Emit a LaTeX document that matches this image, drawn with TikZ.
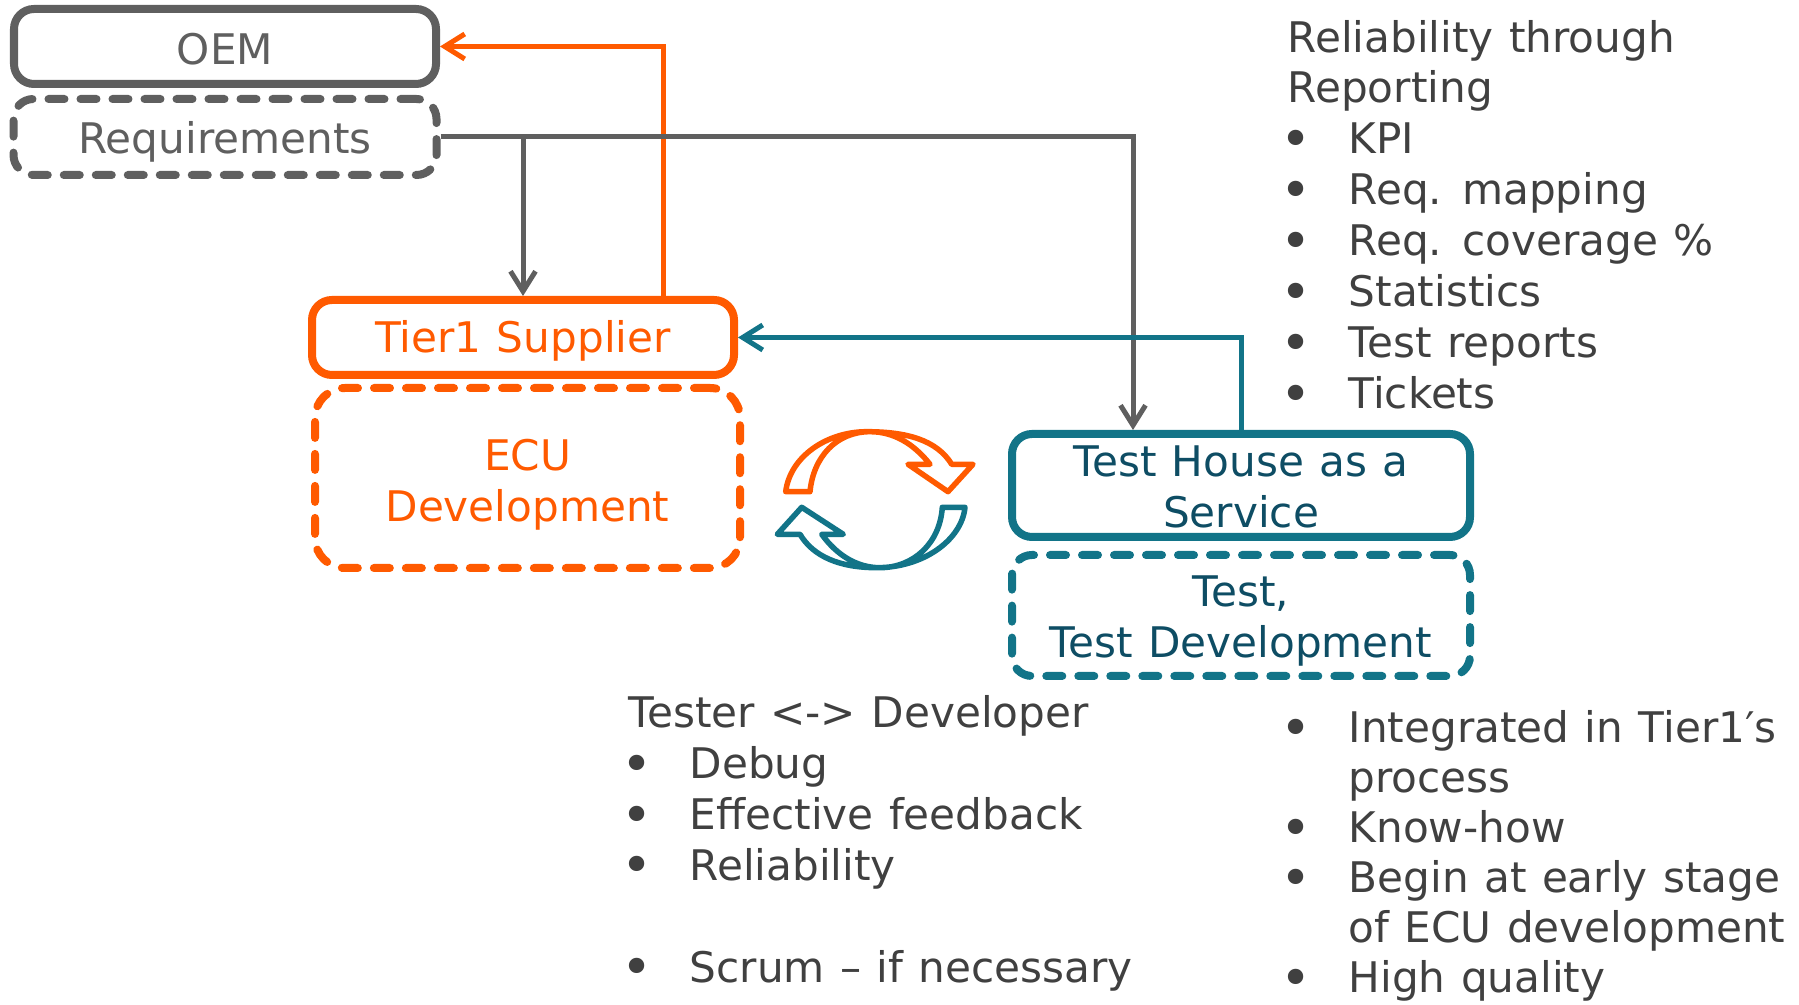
\documentclass[tikz,border=0pt]{standalone}
\usepackage{fontspec}
\setmainfont{DejaVu Sans}[WordSpace=1.15]
\usetikzlibrary{arrows.meta}
\definecolor{mygray}{RGB}{95, 95, 95}
\definecolor{myorange}{RGB}{255, 90, 0}
\definecolor{myteal}{RGB}{18, 116, 136}
\definecolor{mydarkteal}{RGB}{14, 77, 100}
\definecolor{mytext}{RGB}{64, 64, 64}
\tikzstyle{boxnode} = [rounded corners=0.2cm, line width=0.08cm, align=center, inner sep=0pt, font=\fontsize{12}{14.5}\selectfont]
\tikzstyle{dashbox} = [boxnode, line cap=round, dash pattern=on 0.16cm off 0.16cm]
\tikzstyle{arrow} = [line width=0.05cm, ->, >={Straight Barb[length=0.2cm, width=0.25cm]}]
\tikzstyle{cycle} = [line width=0.055cm, line join=round]
\tikzstyle{listnode} = [anchor=north west, align=left, inner sep=0pt, text=mytext, font=\fontsize{12}{14.5}\selectfont]
\newcommand{\blt}{\makebox[0.61cm][l]{\hspace{-0.07cm}\raisebox{-1.1pt}{\scalebox{1.25}{\textbullet}}}}
\newcommand{\cnt}{\makebox[0.61cm][l]{}}
\newcommand{\low}[2]{\raisebox{-#1cm}[\height][\depth]{#2}}

\begin{document}
\begin{tikzpicture}
        \useasboundingbox (0,0) rectangle (17.99,10.05);

        % OEM blocks
        \node (oem) at (2.25,9.585) [boxnode, minimum width=4.22cm, minimum height=0.75cm, draw=mygray, text=mygray] {\low{0.023}{OEM}};
        \node (req) at (2.25,8.68) [dashbox, minimum width=4.23cm, minimum height=0.76cm, draw=mygray, text=mygray] {\low{0.046}{Requirements}};

        % Tier1 blocks
        \node (tier) at (5.23,6.675) [boxnode, minimum width=4.22cm, minimum height=0.75cm, draw=myorange, text=myorange] {\low{0.034}{Tier1 Supplier}};
        \node (ecu) at (5.275,5.27) [dashbox, rounded corners=0.3cm, minimum width=4.25cm, minimum height=1.8cm, draw=myorange, text=myorange] {\low{0.069}{ECU}\\\low{0.069}{Development}};

        % Test house blocks
        \node (test) at (12.41,5.195) [boxnode, minimum width=4.58cm, minimum height=1.03cm, draw=myteal, text=mydarkteal] {\low{0.011}{Test House as a}\\\low{0.011}{Service}};
        \node (testdev) at (12.41,3.895) [dashbox, minimum width=4.58cm, minimum height=1.21cm, draw=myteal, text=mydarkteal] {\low{0.06}{Test,}\\\low{0.06}{Test Development}};

        % Turning points
        \coordinate (oemturn) at (6.63,9.585);
        \coordinate (testturn) at (11.33,8.68);

        % Connections
        \draw [arrow, myorange] (tier.north -| oemturn) |- (oem.east);
        \draw [arrow, mygray] (req.east) -| (testturn |- test.north);
        \draw [arrow, mygray] (req.east -| tier.north) -- (tier.north);
        \draw [arrow, myteal] (test.north) |- (tier.east);

        % Cycle arrows
        \draw [cycle, myorange] (7.857,5.133) .. controls (7.90,5.483) and (8.267,5.733) .. (8.667,5.733)
            .. controls (9.067,5.733) and (9.367,5.65) .. (9.517,5.407)
            -- (9.73,5.407) -- (9.48,5.133) -- (9.08,5.407) -- (9.30,5.407)
            .. controls (9.133,5.617) and (8.933,5.733) .. (8.70,5.733)
            .. controls (8.367,5.733) and (8.133,5.483) .. (8.10,5.133) -- cycle;
        \draw [cycle, myteal] (9.65,4.977) .. controls (9.617,4.65) and (9.233,4.373) .. (8.767,4.373)
            .. controls (8.40,4.373) and (8.133,4.483) .. (8.00,4.707)
            -- (7.773,4.707) -- (8.017,4.977) -- (8.433,4.707) -- (8.217,4.707)
            .. controls (8.367,4.5) and (8.567,4.373) .. (8.80,4.373)
            .. controls (9.133,4.373) and (9.40,4.617) .. (9.423,4.977) -- cycle;

        % Text lists
        \node (reliability) at (12.87,9.857) [listnode] {Reliability through\\Reporting\\\blt KPI\\\blt Req. mapping\\\blt Req. coverage \%\\\blt Statistics\\\blt Test reports\\\blt Tickets};
        \node (tester) at (6.28,3.105) [listnode] {Tester <-> Developer\\\blt Debug\\\blt Effective feedback\\\blt Reliability\\[14.5pt]\blt Scrum -- if necessary};
        \node (process) at (12.87,2.955) [listnode, font=\fontsize{12}{14.25}\selectfont] {\blt Integrated in Tier1′s\\\cnt process\\\blt Know-how\\\blt Begin at early stage\\\cnt of ECU development\\\blt High quality};
    \end{tikzpicture}
\end{document}
